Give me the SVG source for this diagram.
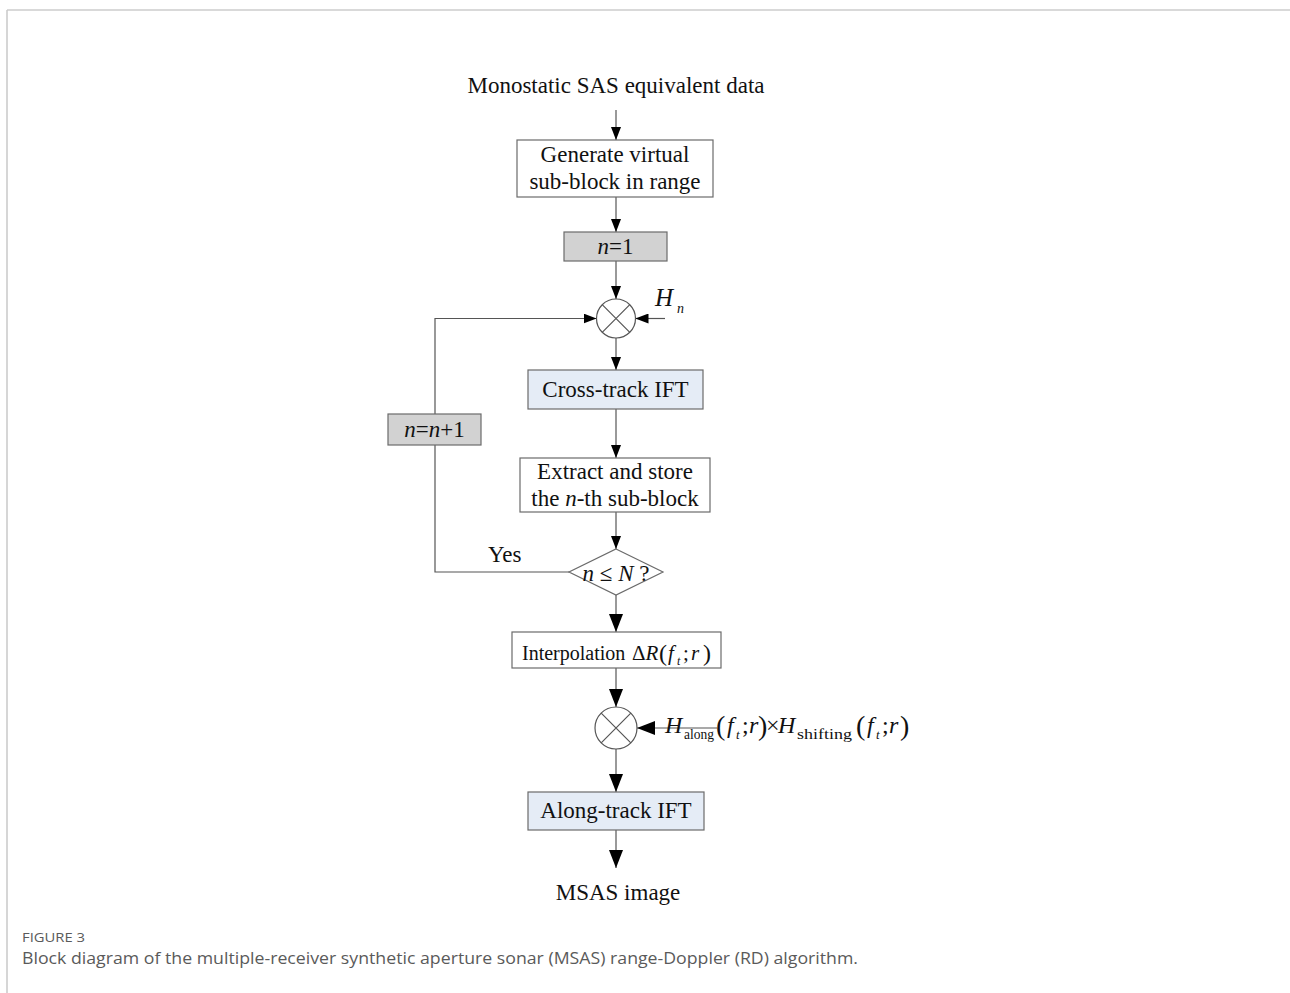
<svg xmlns="http://www.w3.org/2000/svg" width="1290" height="993" viewBox="0 0 1290 993">
<style>
.t{font-family:"Liberation Serif","Times New Roman",serif;font-size:23px;fill:#111}
.i{font-style:italic}
.box{stroke:#6b6b6b;stroke-width:1.2;fill:#fff}
.gray{fill:#d2d2d2}
.blue{fill:#e5ecf6}
.ln{stroke:#555;stroke-width:1.2;fill:none}
.cap{font-family:"Open Sans","Noto Sans",sans-serif;fill:#5a5a5a}
</style>
<defs>
<marker id="as" markerUnits="userSpaceOnUse" markerWidth="13" markerHeight="10" refX="13" refY="5" orient="auto"><path d="M0,0 L13,5 L0,10 z" fill="#000"/></marker>
<marker id="al" markerUnits="userSpaceOnUse" markerWidth="18" markerHeight="14" refX="18" refY="7" orient="auto"><path d="M0,0 L18,7 L0,14 z" fill="#000"/></marker>
</defs>
<rect width="1290" height="993" fill="#fff"/>
<g id="frame">
<line x1="7" y1="10" x2="1290" y2="10" stroke="#d9d9d9" stroke-width="2"/>
<line x1="7" y1="10" x2="7" y2="993" stroke="#c8c8c8" stroke-width="1.5"/>
</g>
<g id="connectors">
<path class="ln" d="M616,110 V140" marker-end="url(#as)"/>
<path class="ln" d="M616,197 V232" marker-end="url(#as)"/>
<path class="ln" d="M616,261 V299" marker-end="url(#as)"/>
<path class="ln" d="M665,318.5 H635.5" marker-end="url(#as)"/>
<path class="ln" d="M435,414 V318.5 H596.5" marker-end="url(#as)"/>
<path class="ln" d="M569,572 H435 V445"/>
<path class="ln" d="M616,338 V370" marker-end="url(#as)"/>
<path class="ln" d="M616,409 V458" marker-end="url(#as)"/>
<path class="ln" d="M616,512 V549" marker-end="url(#as)"/>
<path class="ln" d="M616,595 V632" marker-end="url(#al)"/>
<path class="ln" d="M616,668 V707" marker-end="url(#al)"/>
<path class="ln" d="M717,728 H637" marker-end="url(#al)"/>
<path class="ln" d="M616,749 V792" marker-end="url(#al)"/>
<path class="ln" d="M616,830 V868" marker-end="url(#al)"/>
</g>
<g id="input"><text class="t" x="616" y="93" text-anchor="middle">Monostatic SAS equivalent data</text></g>
<g id="generate">
<rect class="box" x="517" y="140" width="196" height="57"/>
<text class="t" x="615" y="162" text-anchor="middle">Generate virtual</text>
<text class="t" x="615" y="189" text-anchor="middle">sub-block in range</text>
</g>
<g id="init">
<rect class="box gray" x="564" y="232" width="103" height="29"/>
<text class="t" x="615.5" y="254" text-anchor="middle"><tspan class="i">n</tspan>=1</text>
</g>
<g id="mult1">
<circle cx="616" cy="318.5" r="19.5" fill="#fff" stroke="#555" stroke-width="1.2"/>
<path class="ln" d="M602.2,304.7 L629.8,332.3 M629.8,304.7 L602.2,332.3"/>
<text class="t i" x="655" y="306" style="font-size:25px">H</text>
<text class="t i" x="677" y="313" style="font-size:14px">n</text>
</g>
<g id="crossIFT">
<rect class="box blue" x="528" y="370" width="175" height="39"/>
<text class="t" x="615.5" y="397" text-anchor="middle">Cross-track IFT</text>
</g>
<g id="increment">
<rect class="box gray" x="388" y="414" width="93" height="31"/>
<text class="t" x="434.5" y="437" text-anchor="middle"><tspan class="i">n</tspan>=<tspan class="i">n</tspan>+1</text>
</g>
<g id="extract">
<rect class="box" x="520" y="458" width="190" height="54"/>
<text class="t" x="615" y="479" text-anchor="middle">Extract and store</text>
<text class="t" x="615" y="506" text-anchor="middle">the <tspan class="i">n</tspan>-th sub-block</text>
</g>
<g id="decision">
<polygon points="616,549 663,572 616,595 569,572" fill="#fff" stroke="#6b6b6b" stroke-width="1.2"/>
<text class="t" x="616" y="581" text-anchor="middle"><tspan class="i">n</tspan> ≤ <tspan class="i">N</tspan> ?</text>
<text class="t" x="488" y="562">Yes</text>
</g>
<g id="interp">
<rect class="box" x="512" y="632" width="209" height="36"/>
<text class="t" x="522" y="660" style="font-size:20px">Interpolation</text>
<text class="t" x="632" y="660" style="font-size:21px">Δ<tspan class="i">R</tspan></text>
<text class="t" x="659" y="661" style="font-size:24px">(</text>
<text class="t i" x="668" y="660" style="font-size:21px">f</text>
<text class="t i" x="677" y="665" style="font-size:12px">t</text>
<text class="t" x="683" y="660" style="font-size:21px">;</text>
<text class="t i" x="691" y="660" style="font-size:21px">r</text>
<text class="t" x="703" y="661" style="font-size:24px">)</text>
</g>
<g id="mult2">
<circle cx="616" cy="728" r="21" fill="#fff" stroke="#555" stroke-width="1.2"/>
<path class="ln" d="M601.2,713.2 L630.8,742.8 M630.8,713.2 L601.2,742.8"/>
<text class="t i" x="665" y="733" style="font-size:24px">H</text>
<text class="t" x="684" y="739" style="font-size:14px" textLength="30" lengthAdjust="spacingAndGlyphs">along</text>
<text class="t" x="716" y="735" style="font-size:28px">(</text>
<text class="t i" x="727" y="733" style="font-size:24px">f</text>
<text class="t i" x="736" y="739" style="font-size:13px">t</text>
<text class="t" x="742" y="733" style="font-size:24px">;</text>
<text class="t i" x="749" y="733" style="font-size:24px">r</text>
<text class="t" x="758" y="735" style="font-size:28px">)</text>
<text class="t" x="766" y="733" style="font-size:24px">×</text>
<text class="t i" x="778" y="733" style="font-size:24px">H</text>
<text class="t" x="797" y="739" style="font-size:14px" textLength="55" lengthAdjust="spacingAndGlyphs">shifting</text>
<text class="t" x="856" y="735" style="font-size:28px">(</text>
<text class="t i" x="867" y="733" style="font-size:24px">f</text>
<text class="t i" x="876" y="739" style="font-size:13px">t</text>
<text class="t" x="882" y="733" style="font-size:24px">;</text>
<text class="t i" x="889" y="733" style="font-size:24px">r</text>
<text class="t" x="900" y="735" style="font-size:28px">)</text>
</g>
<g id="alongIFT">
<rect class="box blue" x="528" y="792" width="176" height="38"/>
<text class="t" x="616" y="818" text-anchor="middle">Along-track IFT</text>
</g>
<g id="output"><text class="t" x="618" y="900" text-anchor="middle">MSAS image</text></g>
<g id="caption">
<text class="cap" x="22" y="942" style="font-size:13px" textLength="63" lengthAdjust="spacingAndGlyphs">FIGURE 3</text>
<text class="cap" x="22" y="964" style="font-size:15.5px" textLength="836" lengthAdjust="spacingAndGlyphs">Block diagram of the multiple-receiver synthetic aperture sonar (MSAS) range-Doppler (RD) algorithm.</text>
</g>
</svg>
